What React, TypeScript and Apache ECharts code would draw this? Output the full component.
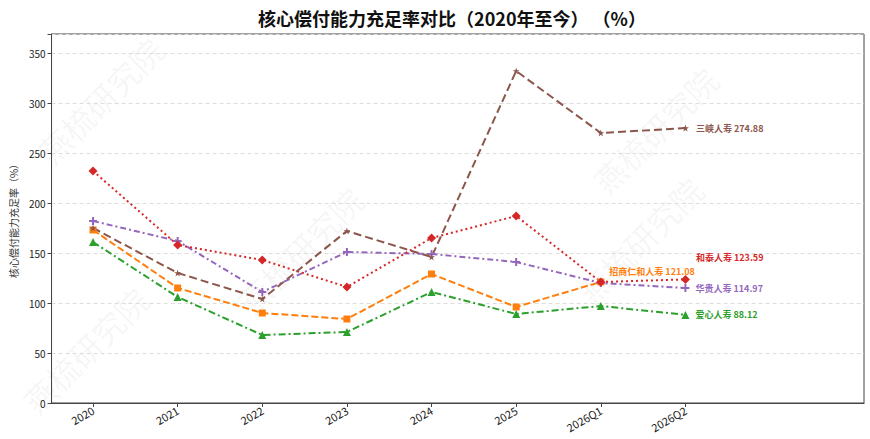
import React, { useEffect, useRef } from "react";
import * as echarts from "echarts";

const categories = ["2020", "2021", "2022", "2023", "2024", "2025", "2026Q1", "2026Q2"];
const hetai = [232, 158, 143, 116, 165, 187, 121, 123.59];
const huagui = [182, 162, 111, 151, 149, 141, 120, 114.97];
const zhaoshang = [173, 115, 90, 84, 129, 96, 121.08, null];
const aixin = [161, 106, 68, 71, 111, 89, 97, 88.12];
const sanxia = [175, 130, 104, 172, 146, 332, 270, 274.88];
const yTicks = [0, 50, 100, 150, 200, 250, 300, 350];

const STAR = "path://M12 0 L14.9 8.6 L24 8.6 L16.6 14 L19.4 22.6 L12 17.3 L4.6 22.6 L7.4 14 L0 8.6 L9.1 8.6 Z";
const PLUS = "path://M9 0H15V9H24V15H15V24H9V15H0V9H9Z";

type Def = {
  name: string;
  values: (number | null)[];
  color: string;
  dash: number[];
  symbol: string;
  size: number;
  dy: number;
  dist: number;
};

const defs: Def[] = [
  { name: "招商仁和人寿", values: zhaoshang, color: "#ff7f0e", dash: [7, 3], symbol: "rect", size: 7, dy: -10, dist: 5 },
  { name: "爱心人寿", values: aixin, color: "#2ca02c", dash: [7, 3, 2, 3], symbol: "triangle", size: 8, dy: 0, dist: 6 },
  { name: "华贵人寿", values: huagui, color: "#9467bd", dash: [6, 3, 2, 3], symbol: PLUS, size: 8, dy: 0, dist: 6 },
  { name: "和泰人寿", values: hetai, color: "#d62728", dash: [2, 3], symbol: "diamond", size: 9, dy: -22, dist: 6 },
  { name: "三峡人寿", values: sanxia, color: "#8c564b", dash: [8, 4], symbol: STAR, size: 7, dy: 0, dist: 7 },
];

export default function App() {
  const ref = useRef<HTMLDivElement>(null);
  useEffect(() => {
    if (!ref.current) return;
    const chart = echarts.init(ref.current, null, { renderer: "svg" });
    const series = defs.map((d) => {
      let lastIdx = -1;
      d.values.forEach((v, i) => {
        if (v !== null) lastIdx = i;
      });
      const data = d.values
        .map((v, i) => {
          if (v === null) return null;
          const item: any = { value: [i, v] };
          if (i === lastIdx) {
            item.label = {
              show: true,
              position: "right",
              distance: d.dist,
              offset: [0, d.dy],
              formatter: `${d.name} ${(v as number).toFixed(2)}`,
              color: d.color,
              fontSize: 9,
              fontWeight: "bold",
              fontFamily: "Noto Sans CJK SC",
            };
          }
          return item;
        })
        .filter((x) => x !== null);
      return {
        type: "line",
        name: d.name,
        data,
        symbol: d.symbol,
        symbolSize: d.size,
        itemStyle: { color: d.color },
        lineStyle: { color: d.color, width: 2, type: d.dash },
        label: { show: false },
      };
    });

    const wm = [
      [85, 350],
      [300, 250],
      [655, 130],
      [640, 240],
      [100, 100],
    ].map(([x, y]) => ({
      type: "text",
      x,
      y,
      rotation: Math.PI / 4,
      silent: true,
      z: -10,
      style: {
        text: "燕梳研究院",
        fontSize: 32,
        fontFamily: "Noto Sans CJK SC",
        fill: "rgba(120,120,120,0.07)",
        align: "center",
        verticalAlign: "middle",
      },
    }));

    chart.setOption({
      animation: false,
      backgroundColor: "#fff",
      textStyle: { fontFamily: "Noto Sans CJK SC" },
      title: {
        text: "核心偿付能力充足率对比（2020年至今） （%）",
        left: 447,
        textAlign: "center",
        top: 4,
        textStyle: { fontSize: 18, fontWeight: "bold", color: "#111", fontFamily: "Noto Sans CJK SC" },
      },
      grid: { left: 45, right: 6, top: 34, bottom: 36, show: true, borderColor: "#444", borderWidth: 1 },
      xAxis: {
        type: "value",
        min: -0.49,
        max: 9.11,
        splitLine: { show: false },
        axisLine: { onZero: false, lineStyle: { color: "#444" } },
        axisTick: { show: true, customValues: categories.map((_, i) => i), length: 4, lineStyle: { color: "#444" } },
        axisLabel: {
          customValues: categories.map((_, i) => i),
          formatter: (v: number) => categories[Math.round(v)] ?? "",
          rotate: 30,
          fontSize: 11,
          color: "#222",
          margin: 6,
        },
      },
      yAxis: {
        type: "value",
        min: 0,
        max: 369,
        interval: 50,
        name: "核心偿付能力充足率（%）",
        nameLocation: "middle",
        nameGap: 32,
        nameTextStyle: { fontSize: 10, color: "#333" },
        axisLine: { show: true, onZero: false, lineStyle: { color: "#444" } },
        axisTick: { show: true, length: 4, lineStyle: { color: "#444" } },
        axisLabel: {
          fontSize: 10,
          color: "#222",
          margin: 6,
          formatter: (v: number) => (yTicks.includes(v) ? String(v) : ""),
        },
        splitLine: { show: true, lineStyle: { color: "#ddd", type: [4, 3] } },
      },
      graphic: wm,
      series,
    });
    return () => chart.dispose();
  }, []);
  return <div ref={ref} style={{ position: "fixed", left: 0, top: 0, width: 870, height: 439 }} />;
}
